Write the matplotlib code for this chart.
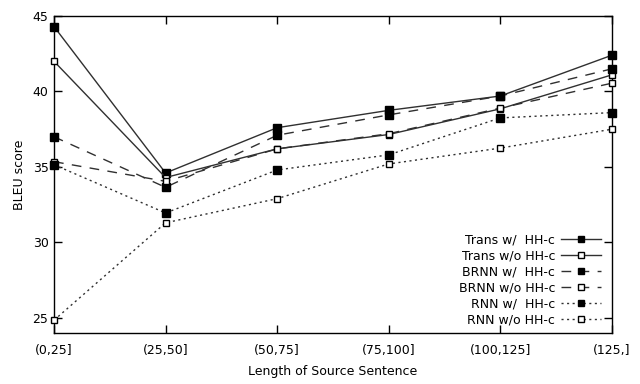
import matplotlib
matplotlib.use("Agg")
import matplotlib.pyplot as plt

# length buckets of the source sentence
buckets = ["(0,25]", "(25,50]", "(50,75]", "(75,100]", "(100,125]", "(125,]"]

# BLEU scores
trans_w = [44.3, 34.6, 37.6, 38.75, 39.7, 42.4]
trans_wo = [42.0, 34.3, 36.2, 37.15, 38.85, 41.1]
brnn_w = [37.0, 33.65, 37.1, 38.45, 39.7, 41.5]
brnn_wo = [35.35, 34.05, 36.2, 37.2, 38.9, 40.55]
rnn_w = [35.15, 31.95, 34.8, 35.8, 38.25, 38.6]
rnn_wo = [24.85, 31.3, 32.9, 35.2, 36.25, 37.5]

series = [
    ("Trans w/  HH-c", trans_w, "-", "black"),
    ("Trans w/o HH-c", trans_wo, "-", "white"),
    ("BRNN w/  HH-c", brnn_w, (0, (7, 6)), "black"),
    ("BRNN w/o HH-c", brnn_wo, (0, (7, 6)), "white"),
    ("RNN w/  HH-c", rnn_w, (0, (1.5, 2.5)), "black"),
    ("RNN w/o HH-c", rnn_wo, (0, (1.5, 2.5)), "white"),
]

plt.rcParams['font.family'] = ['DejaVu Sans']
fig = plt.figure(figsize=(6.4, 3.84), dpi=100)
ax = fig.add_axes([0.0844, 0.1328, 0.8716, 0.8255])

xs = list(range(len(buckets)))
for label, vals, ls, face in series:
    ax.plot(xs, vals, linestyle=ls, color="#303030", linewidth=1.0,
            marker="s", markersize=5.5 if face == "black" else 5,
            markerfacecolor=face, markeredgecolor="black", markeredgewidth=1.0,
            label=label, clip_on=False, zorder=3)

ax.set_xlim(0, 5)
ax.set_ylim(24, 45)
ax.set_xticks(xs)
ax.set_xticklabels(buckets)
ax.set_yticks([25, 30, 35, 40, 45])
ax.tick_params(direction="in", top=True, right=True, length=6, width=1,
               labelsize=9)
ax.tick_params(axis="x", pad=8)
ax.tick_params(axis="y", pad=4)
for sp in ax.spines.values():
    sp.set_linewidth(1.0)

ax.set_xlabel("Length of Source Sentence", fontsize=9, labelpad=6)
ax.set_ylabel("BLEU score", fontsize=9, labelpad=5)

leg = ax.legend(loc="lower right", bbox_to_anchor=(0.997, -0.008), frameon=False,
                markerfirst=False, fontsize=9, labelspacing=0.25,
                handlelength=3.2, handletextpad=0.5, markerscale=0.8,
                borderpad=0.2)

fig.savefig("out.png", dpi=100)
